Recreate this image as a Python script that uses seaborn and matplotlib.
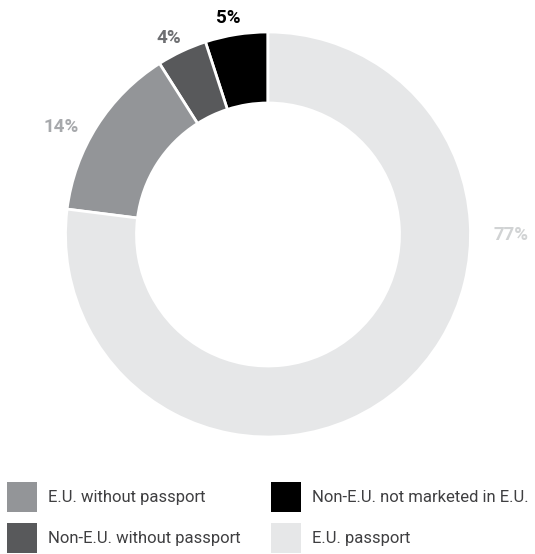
import numpy as np
import matplotlib
matplotlib.use("Agg")
import matplotlib.pyplot as plt
from matplotlib.patches import Patch
import seaborn as sns

# slices, counterclockwise from 12 o'clock
categories = ["Non-E.U. not marketed in E.U.", "Non-E.U. without passport",
              "E.U. without passport", "E.U. passport"]
shares = [5, 4, 14, 77]
colors = ["#000000", "#58595b", "#939598", "#e6e7e8"]
label_colors = ["#000000", "#6d6e71", "#a7a9ac", "#d1d3d4"]

# legend order (two columns)
legend_order = ["E.U. without passport", "Non-E.U. without passport",
                "Non-E.U. not marketed in E.U.", "E.U. passport"]

sns.set_style("white")
plt.rcParams["font.family"] = ["Roboto", "DejaVu Sans"]

W, H = 535, 554
fig = plt.figure(figsize=(W / 100, H / 100), dpi=100)
ax = fig.add_axes([0, 0, 1, 1])

cx, cy, R = 268, H - 234.5, 202.5
wedges, _ = ax.pie(shares, colors=colors, startangle=90, counterclock=True,
                   center=(cx, cy), radius=R,
                   wedgeprops=dict(width=71, edgecolor="white", linewidth=2))

# label placement (angle in degrees, distance from centre in px)
label_pos = [(100.5, 220), (116.8, 219.6), (152.4, 233), (0, 243)]
for pct, col, (ang, r) in zip(shares, label_colors, label_pos):
    a = np.deg2rad(ang)
    ax.text(cx + r * np.cos(a), cy + r * np.sin(a), f"{pct}%", color=col,
            fontsize=13.5, fontweight="bold", ha="center", va="center")

ax.set_xlim(0, W)
ax.set_ylim(0, H)
ax.set_aspect("equal")
ax.axis("off")

handles = [Patch(facecolor=colors[categories.index(c)], edgecolor="none")
           for c in legend_order]
fs = 12
fig.legend(handles, legend_order, ncol=2, loc="upper left",
           bbox_to_anchor=(7 / W, 1 - 482 / H), frameon=False, fontsize=fs,
           handlelength=1.8, handleheight=2.39, handletextpad=0.66,
           columnspacing=1.8, labelspacing=0.66, borderpad=0,
           borderaxespad=0, labelcolor="#3f3f41")

fig.savefig("out.png", dpi=100)
